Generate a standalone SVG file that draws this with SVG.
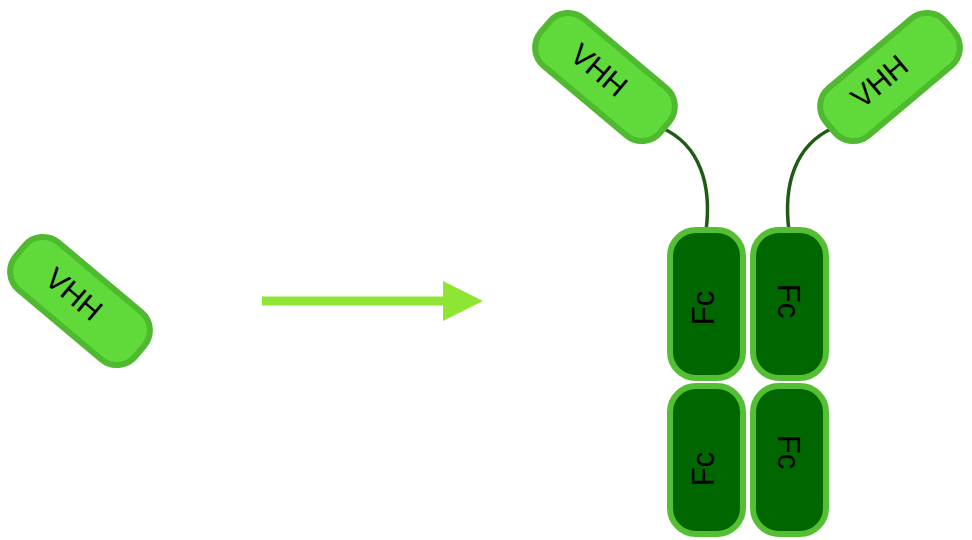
<svg xmlns="http://www.w3.org/2000/svg" width="972" height="540" viewBox="0 0 972 540">
  <style>
    .vhh { fill: #60d93a; stroke: #4fb92f; stroke-width: 6; }
    .fc { fill: #006600; stroke: #55bf34; stroke-width: 6; }
    .lbl { font-family: "Liberation Sans", Arial, sans-serif; fill: #000000; text-anchor: middle; }
    .vt { font-size: 30px; }
    .ft { font-size: 31px; }
    .link { fill: none; stroke: #1d5c12; stroke-width: 3.5; }
    .arrow { fill: none; stroke: #8ee533; stroke-width: 9; }
  </style>
  <defs>
    <marker id="ah" markerUnits="userSpaceOnUse" markerWidth="40" markerHeight="40" viewBox="0 0 40 40" refX="0" refY="20" orient="auto">
      <path d="M0,0 L40,20 L0,40 Z" fill="#8ee533"/>
    </marker>
  </defs>
  <rect width="972" height="540" fill="#ffffff"/>

  <g id="connectors">
    <path class="arrow" d="M262,301 L443,301" marker-end="url(#ah)"/>
    <path class="link" d="M662,128 C700,145 712,185 706,231"/>
    <path class="link" d="M833,128 C795,145 783,185 789,231"/>
  </g>

  <g id="vhh-single" transform="translate(80,301) rotate(40)">
    <rect class="vhh" x="-78" y="-31" width="156" height="62" rx="24"/>
    <text class="lbl vt" x="-9" y="9">VHH</text>
  </g>

  <g id="vhh-top-left" transform="translate(605,77) rotate(40)">
    <rect class="vhh" x="-78" y="-31" width="156" height="62" rx="24"/>
    <text class="lbl vt" x="-9" y="9">VHH</text>
  </g>

  <g id="vhh-top-right" transform="translate(890,77) rotate(-40)">
    <rect class="vhh" x="-78" y="-31" width="156" height="62" rx="24"/>
    <text class="lbl vt" x="-11" y="7">VHH</text>
  </g>

  <g id="fc-left-top">
    <rect class="fc" x="670" y="230" width="73" height="148" rx="26"/>
    <text class="lbl ft" transform="translate(703,308) rotate(-90)" y="11">Fc</text>
  </g>

  <g id="fc-right-top">
    <rect class="fc" x="753" y="230" width="73" height="148" rx="26"/>
    <text class="lbl ft" transform="translate(789,301) rotate(90)" y="11">Fc</text>
  </g>

  <g id="fc-left-bottom">
    <rect class="fc" x="670" y="386" width="73" height="148" rx="26"/>
    <text class="lbl ft" transform="translate(703,469) rotate(-90)" y="11">Fc</text>
  </g>

  <g id="fc-right-bottom">
    <rect class="fc" x="753" y="386" width="73" height="148" rx="26"/>
    <text class="lbl ft" transform="translate(789,452) rotate(90)" y="11">Fc</text>
  </g>
</svg>
